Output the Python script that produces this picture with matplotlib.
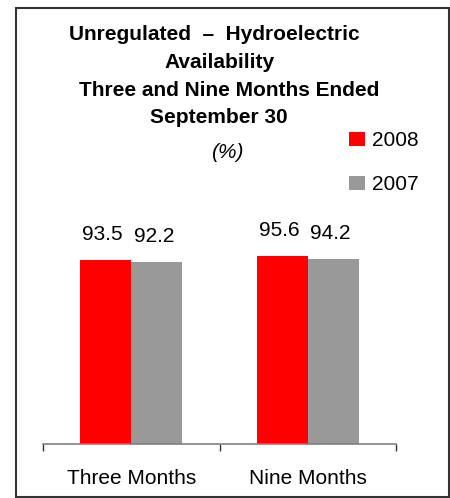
import matplotlib
matplotlib.use("Agg")
import matplotlib.pyplot as plt
from matplotlib.patches import Rectangle
import numpy as np

plt.rcParams['font.family'] = ['Liberation Sans', 'DejaVu Sans']

# dados do grafico
categorias = ["Three Months", "Nine Months"]
anos = ["2008", "2007"]
valores_2008 = [93.5, 95.6]
valores_2007 = [92.2, 94.2]
cores = ["#FF0000", "#999999"]

titulo_linhas = ["Unregulated  \u2013  Hydroelectric", "Availability",
                 "Three and Nine Months Ended", "September 30"]
subtitulo = "(%)"

W, H = 450, 498
fig = plt.figure(figsize=(W / 100, H / 100), dpi=100)

# eixo: base em y=443.5 px, de x=43 a x=396
ax = fig.add_axes([43 / W, (H - 443.5) / H, (396 - 43) / W, (443.5 - 200) / H])

x = np.arange(len(categorias))
largura = 0.29
series = [valores_2008, valores_2007]
for k, (vals, ano, cor) in enumerate(zip(series, anos, cores)):
    pos = x + (k - 0.5) * largura
    barras = ax.bar(pos, vals, width=largura, color=cor, label=ano)
    for b, v in zip(barras, vals):
        ax.annotate(f"{v:.1f}", (b.get_x() + b.get_width() / 2, b.get_height()),
                    xytext=(-3, 20), textcoords="offset pixels",
                    ha="center", va="baseline", fontsize=15)

ax.set_xlim(-0.5, 1.5)
ax.set_ylim(0, 124)
ax.set_yticks([])
ax.set_xticks(x)
ax.set_xticklabels(categorias, fontsize=15)
ax.set_xticks([-0.5, 0.5, 1.5], minor=True)
ax.tick_params(axis="x", which="major", length=0, pad=18)
ax.tick_params(axis="x", which="minor", length=5, width=1, color="#333333", direction="out")
for lado in ["left", "right", "top"]:
    ax.spines[lado].set_visible(False)
ax.spines["bottom"].set_color("#808080")
ax.spines["bottom"].set_linewidth(1.2)

# titulo (cada linha centrada como no original)
centros_x = [214, 219.5, 229.5, 219]
centros_y = [34, 63, 90, 117]
for txt, cx, cy in zip(titulo_linhas, centros_x, centros_y):
    fig.text(cx / W, 1 - cy / H, txt, ha="center", va="center",
             fontsize=15, fontweight="bold")
fig.text(227 / W, 1 - 152 / H, subtitulo, ha="center", va="center",
         fontsize=15, style="italic")

# legenda
ax.legend(loc="upper left", bbox_to_anchor=(349 / W, 1 - 131 / H),
          bbox_transform=fig.transFigure, frameon=False, fontsize=15,
          handlelength=0.77, handleheight=0.67, handletextpad=0.34,
          labelspacing=1.2, borderpad=0, borderaxespad=0)

# moldura em volta
fig.patches.append(Rectangle((16 / W, 1 - 497 / H), (449 - 16) / W, (497 - 8) / H,
                             transform=fig.transFigure, fill=False,
                             edgecolor="#333333", linewidth=1.5))

fig.savefig("out.png", dpi=100)
